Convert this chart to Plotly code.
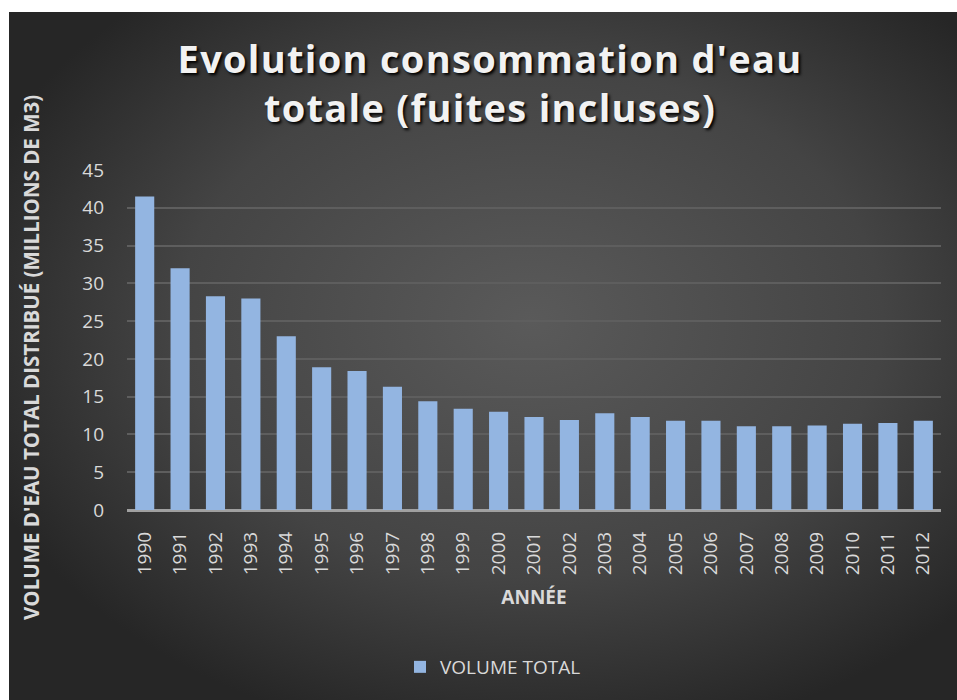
import base64
import plotly.graph_objects as go

years = [str(y) for y in range(1990, 2013)]
volume = [41.5, 32.0, 28.3, 28.0, 23.0, 18.9, 18.4, 16.3, 14.4, 13.4, 13.0, 12.3,
          11.9, 12.8, 12.3, 11.8, 11.8, 11.1, 11.1, 11.2, 11.4, 11.5, 11.8]
series_name = "VOLUME TOTAL"
title_lines = ["Evolution consommation d'eau", "totale (fuites incluses)"]
x_title = "ANNÉE"
y_title = "VOLUME D'EAU TOTAL DISTRIBUÉ (MILLIONS DE M3)"

W, H = 957, 700
L, R, T, B = 127, 16, 170, 190
PW, PH = W - L - R, H - T - B

svg = f'''<svg xmlns="http://www.w3.org/2000/svg" width="{W}" height="{H}" viewBox="0 0 {W} {H}">
<defs><radialGradient id="g" cx="0.55" cy="0.45" r="0.62">
<stop offset="0" stop-color="#5a5a5a"/><stop offset="0.6" stop-color="#444444"/><stop offset="1" stop-color="#262626"/>
</radialGradient></defs>
<rect x="0" y="0" width="{W}" height="{H}" fill="#ffffff"/>
<rect x="9" y="12" width="{W-9}" height="{H-12}" fill="url(#g)"/>
</svg>'''
src = "data:image/svg+xml;base64," + base64.b64encode(svg.encode()).decode()

title_html = "<br>".join(f'<span style="letter-spacing:1.3px">{t}</span>' for t in title_lines)

fig = go.Figure()
fig.add_trace(go.Bar(
    x=years, y=volume, name=series_name,
    marker=dict(color="#93b5e1", line=dict(width=0)),
))

font_main = "'Open Sans', sans-serif"
fig.update_layout(
    width=W, height=H,
    margin=dict(l=L, r=R, t=T, b=B),
    paper_bgcolor="#ffffff",
    plot_bgcolor="rgba(0,0,0,0)",
    bargap=0.46,
    font=dict(family=font_main, color="#d9d9d9", size=19),
    title=dict(
        text=title_html,
        x=490 / W, xanchor="center",
        y=1 - 73 / H, yanchor="top", yref="container",
        font=dict(family=font_main, size=38, color="#f2f2f2", weight="bold",
                  shadow="2px 2px 3px #000000"),
    ),
    xaxis=dict(
        type="category", tickangle=-90, showgrid=False, ticks="",
        showline=False, zeroline=False, ticklabelstandoff=17,
        tickfont=dict(size=19, color="#d9d9d9"),
        title=dict(text=x_title, font=dict(size=19, color="#d9d9d9", weight="bold"), standoff=16),
    ),
    yaxis=dict(
        range=[0, 45], dtick=5, showgrid=True, gridcolor="#5e5e5e", gridwidth=2,
        zeroline=True, zerolinecolor="#a0a0a0", zerolinewidth=3,
        ticks="", showline=False, ticklabelstandoff=22,
        tickfont=dict(size=19, color="#d9d9d9"),
    ),
    showlegend=True,
    legend=dict(
        orientation="h", x=(493 - L) / PW, xanchor="center",
        y=-(667 - (T + PH)) / PH, yanchor="middle", itemwidth=30,
        font=dict(size=19, color="#d9d9d9"), bgcolor="rgba(0,0,0,0)",
    ),
    images=[dict(
        source=src, xref="paper", yref="paper",
        x=-L / PW, y=1 + T / PH, sizex=W / PW, sizey=H / PH,
        xanchor="left", yanchor="top", sizing="stretch", layer="below",
    )],
    annotations=[dict(
        text=y_title, textangle=-90, showarrow=False,
        xref="paper", yref="paper",
        x=(31 - L) / PW, y=(T + PH - 358) / PH,
        xanchor="center", yanchor="middle",
        font=dict(size=20.5, color="#d9d9d9", weight="bold"),
    )],
)

fig.write_html("out.html", config={"displayModeBar": False},
               post_script="document.body.style.margin='0px';")
